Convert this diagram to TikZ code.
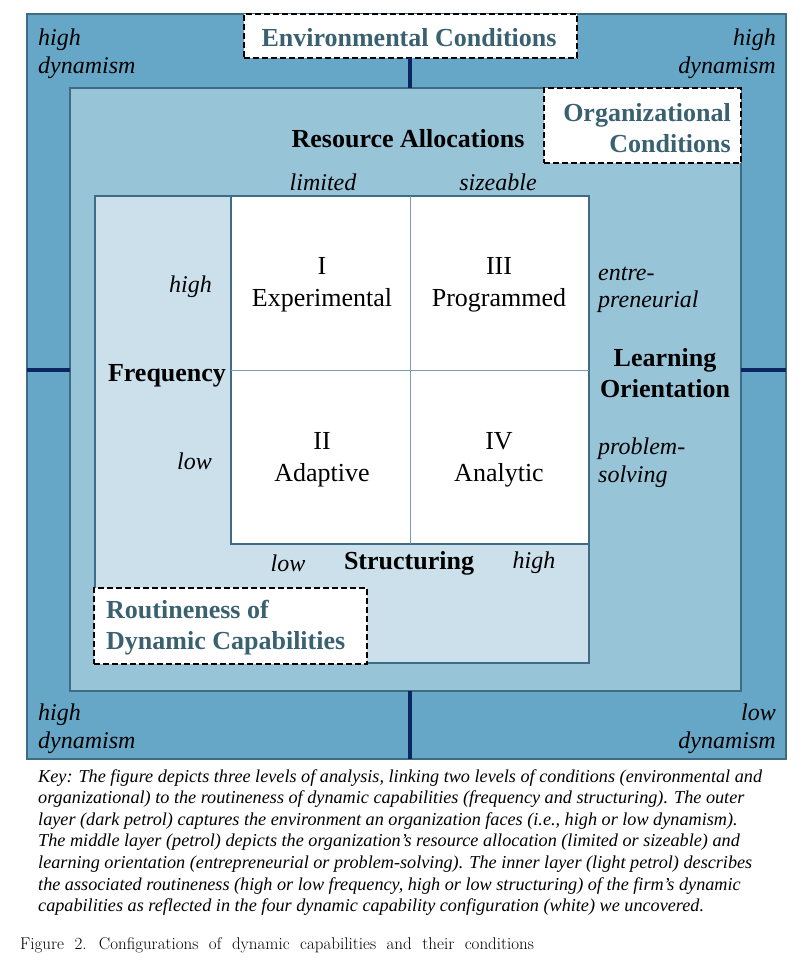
\documentclass[tikz,border=0pt]{standalone}
\usepackage{fontspec}
\newfontfamily\tnr{Liberation Serif}
\definecolor{outerc}{HTML}{66A6C6}
\definecolor{midc}{HTML}{98C4D8}
\definecolor{innc}{HTML}{CBE0EB}
\definecolor{edgec}{HTML}{3E6C84}
\definecolor{navyc}{HTML}{0B2560}
\definecolor{titlec}{HTML}{3A6171}
\definecolor{gridc}{HTML}{7A9DB0}
\tikzset{
  layerbox/.style={draw=edgec, line width=1.5pt, anchor=north west, inner sep=0pt, outer sep=0pt},
  dashbox/.style={draw=black, fill=white, dashed, dash pattern=on 6pt off 3pt, line width=1.5pt, anchor=north west, inner sep=0pt, outer sep=0pt},
  navyline/.style={draw=navyc, line width=3.5pt},
  itlabel/.style={font=\tnr\itshape\fontsize{24}{28}\selectfont, inner sep=0pt},
  boldlabel/.style={font=\tnr\bfseries\fontsize{26}{31}\selectfont, inner sep=0pt},
  titlelabel/.style={font=\tnr\bfseries\fontsize{26}{31}\selectfont, text=titlec, inner sep=0pt},
  quadlabel/.style={font=\tnr\fontsize{26}{32}\selectfont, inner sep=0pt, align=center}
}
\begin{document}
\begin{tikzpicture}[x=1pt,y=-1pt]
\useasboundingbox (0,0) rectangle (808,975);
\fill[white] (0,0) rectangle (808,975);
% layers
\node[layerbox, fill=outerc, minimum width=759pt, minimum height=745pt] (outer) at (27,14) {};
\node[layerbox, fill=midc, minimum width=671pt, minimum height=603pt] (mid) at (70,88) {};
\node[layerbox, fill=innc, minimum width=494pt, minimum height=467pt] (inner) at (95,196) {};
\node[layerbox, fill=white, minimum width=358pt, minimum height=348pt] (grid) at (231,196) {};
\draw[gridc, line width=0.8pt] (grid.north) -- (grid.south);
\draw[gridc, line width=0.8pt] (grid.west) -- (grid.east);
% dashed boxes
\node[dashbox, minimum width=333pt, minimum height=44pt] (env) at (244,14) {};
\node[titlelabel] (envt) at (409,38) {Environmental Conditions};
\node[dashbox, minimum width=197pt, minimum height=75pt] (org) at (544,88) {};
\node[titlelabel, align=right, anchor=east] (orgt) at (731,128) {Organizational\\Conditions};
\node[dashbox, minimum width=273pt, minimum height=76pt] (rout) at (94,588) {};
\node[titlelabel, align=left, anchor=west] (routt) at (106,628) {Routineness of\\Dynamic Capabilities};
% navy connectors
\draw[navyline] (grid.center |- env.south) -- (grid.center |- mid.north);
\draw[navyline] (grid.center |- mid.south) -- (grid.center |- outer.south);
\draw[navyline] (outer.west |- grid.center) -- (mid.west |- grid.center);
\draw[navyline] (mid.east |- grid.center) -- (outer.east |- grid.center);
% dynamism labels
\node[itlabel, align=left, anchor=west] (tl) at (38,54) {high\\dynamism};
\node[itlabel, align=right, anchor=east] (tr) at (776,54) {high\\dynamism};
\node[itlabel, align=left, anchor=west] (bl) at (38,729) {high\\dynamism};
\node[itlabel, align=right, anchor=east] (br) at (776,729) {low\\dynamism};
% resource allocations
\node[boldlabel] (res) at (408,139) {Resource Allocations};
\node[itlabel] (lim) at (323,182) {limited};
\node[itlabel] (siz) at (498,182) {sizeable};
% frequency
\node[boldlabel] (freq) at (167,376) {Frequency};
\node[itlabel, anchor=east] (fhigh) at (212,287) {high};
\node[itlabel, anchor=east] (flow) at (212,461) {low};
% learning orientation
\node[boldlabel, align=center] (learn) at (665,373) {Learning\\Orientation};
\node[itlabel, align=left, anchor=west, font=\tnr\itshape\fontsize{24}{27}\selectfont] (entre) at (598,290) {entre-\\preneurial};
\node[itlabel, align=left, anchor=west, font=\tnr\itshape\fontsize{24}{28}\selectfont] (prob) at (598,463) {problem-\\solving};
% structuring
\node[boldlabel] (struc) at (409,563) {Structuring};
\node[itlabel] (slow) at (288,563) {low};
\node[itlabel] (shigh) at (534,563) {high};
% quadrants
\node[quadlabel] (q1) at (322,285) {I\\Experimental};
\node[quadlabel] (q3) at (499,285) {III\\Programmed};
\node[quadlabel] (q2) at (322,460) {II\\Adaptive};
\node[quadlabel] (q4) at (499,460) {IV\\Analytic};
% key
\node[anchor=north west, inner sep=0pt, align=left, font=\tnr\itshape\fontsize{18.2}{21.6}\selectfont] (key) at (38,769) {Key: The figure depicts three levels of analysis, linking two levels of conditions (environmental and\\
organizational) to the routineness of dynamic capabilities (frequency and structuring). The outer\\
layer (dark petrol) captures the environment an organization faces (i.e., high or low dynamism).\\
The middle layer (petrol) depicts the organization’s resource allocation (limited or sizeable) and\\
learning orientation (entrepreneurial or problem-solving). The inner layer (light petrol) describes\\
the associated routineness (high or low frequency, high or low structuring) of the firm’s dynamic\\
capabilities as reflected in the four dynamic capability configuration (white) we uncovered.};
% caption
\node[anchor=west, inner sep=0pt, font=\fontsize{17}{20}\selectfont] (cap) at (20,945) {\spaceskip=0.62em\relax Figure 2. Configurations of dynamic capabilities and their conditions};
\end{tikzpicture}
\end{document}
